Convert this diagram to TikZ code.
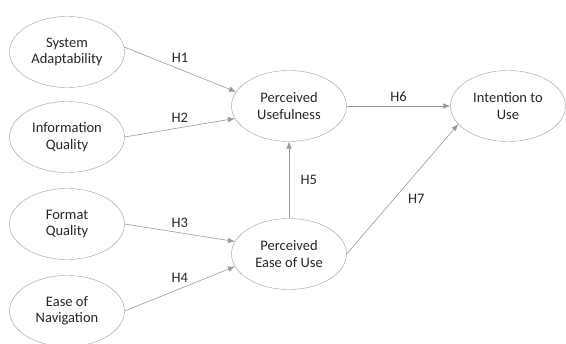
\documentclass[tikz,border=0pt]{standalone}
\usepackage{fontspec}
\setmainfont{Carlito}
\usetikzlibrary{shapes.geometric,arrows.meta}

\begin{document}
\begin{tikzpicture}[
    x=1pt, y=-1pt,
    construct/.style={
        ellipse,
        draw=gray!75,
        fill=white,
        minimum width=115pt,
        minimum height=71pt,
        inner sep=0pt,
        align=center,
        text=black!85,
        font=\fontsize{14.5}{16.5}\selectfont
    },
    path/.style={
        ->,
        draw=gray!80,
        line width=0.6pt
    },
    hyp/.style={
        text=black!85,
        font=\fontsize{14.5}{16.5}\selectfont
    },
    >={Latex[length=7pt,width=5.5pt]}
]
\useasboundingbox (0,0) rectangle (566,344);

% Externe factoren
\node[construct] (sa) at (67,52) {System\\Adaptability};
\node[construct] (iq) at (67,137) {Information\\Quality};
\node[construct] (fq) at (67,224) {Format\\Quality};
\node[construct] (en) at (67,311) {Ease of\\Navigation};

% TAM-constructen
\node[construct] (pu) at (289,106) {Perceived\\Usefulness};
\node[construct] (peu) at (289,254) {Perceived\\Ease of Use};
\node[construct] (itu) at (508,106) {Intention to\\Use};

% Hypothesen
\draw[path] (sa.5) -- node[hyp, above=3pt] {H1} (pu.165);
\draw[path] (iq.east) -- node[hyp, above=2pt] {H2} (pu.193);
\draw[path] (fq.east) -- node[hyp, above=2pt] {H3} (peu.167);
\draw[path] (en.east) -- node[hyp, above=3pt] {H4} (peu.193);
\draw[path] (peu.north) -- node[hyp, right=8pt] {H5} (pu.south);
\draw[path] (pu.east) -- node[hyp, above=1pt] {H6} (itu.west);
\draw[path] (peu.east) -- node[hyp, below right=2pt] {H7} (itu.200);

\end{tikzpicture}
\end{document}
